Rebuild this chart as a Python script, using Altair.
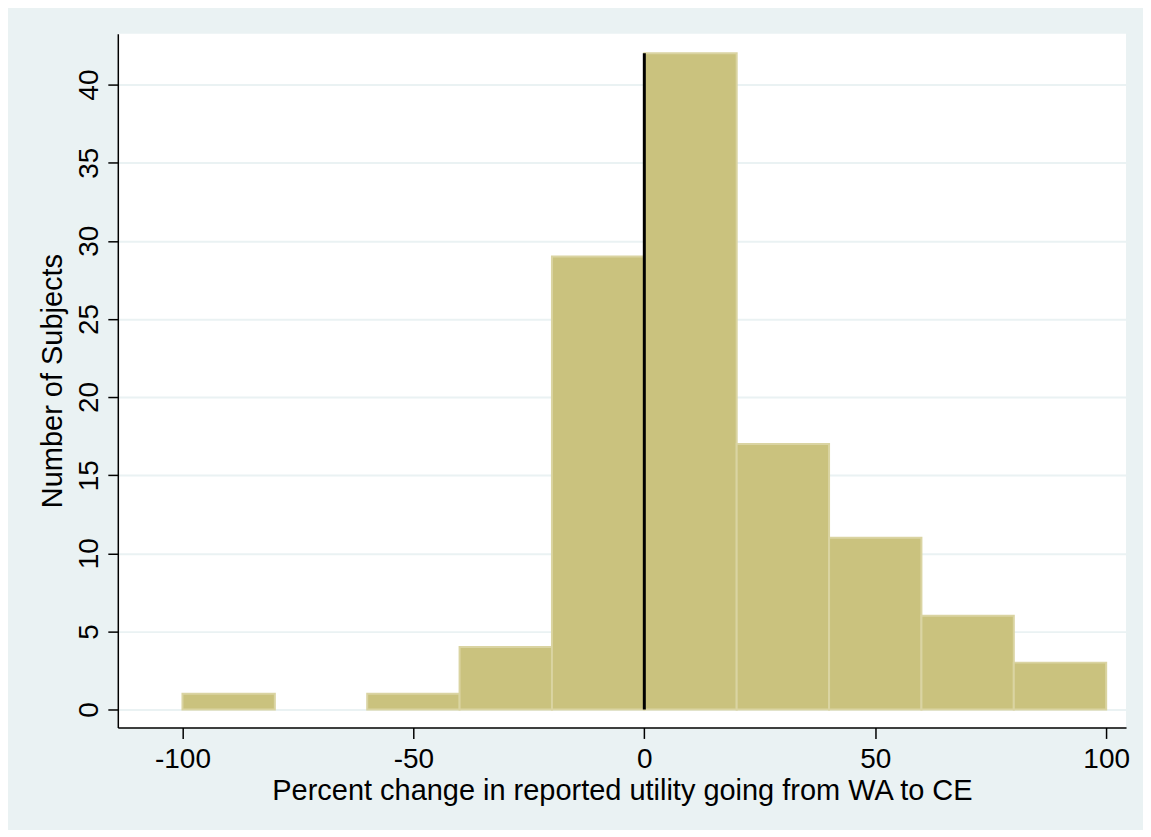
import altair as alt
import pandas as pd

bin_start = [-100, -80, -60, -40, -20, 0, 20, 40, 60, 80]
bin_width = 20
counts = [1, 0, 1, 4, 29, 42, 17, 11, 6, 3]
x_ticks = [-100, -50, 0, 50, 100]
y_ticks = [0, 5, 10, 15, 20, 25, 30, 35, 40]
ref_x = [0]
ref_top = [42]

df = pd.DataFrame({
    "start": bin_start,
    "end": [s + bin_width for s in bin_start],
    "count": counts,
})
ref = pd.DataFrame({"x": ref_x, "y0": [0], "y1": ref_top})

FONT = "Liberation Sans"
xs = alt.Scale(domain=[-114.0, 104.3], nice=False, zero=False)
ys = alt.Scale(domain=[-1.15, 43.26], nice=False, zero=False)

bars = alt.Chart(df).transform_filter(alt.datum.count > 0).mark_bar(
    color="#CAC27E", stroke="#DAD4A2", strokeWidth=2
).encode(
    x=alt.X("start:Q", scale=xs, axis=alt.Axis(
        values=x_ticks, grid=False, title="Percent change in reported utility going from WA to CE",
        titleX=505, titleY=72, titleBaseline="alphabetic", titleAlign="center",
        labelBaseline="alphabetic", labelPadding=29, tickSize=11,
        labelExpr="'' + datum.value",
    )),
    x2="end:Q",
    y=alt.Y("count:Q", scale=ys, axis=alt.Axis(
        values=y_ticks, grid=True, title="Number of Subjects",
        labelAngle=270, labelAlign="center", labelBaseline="alphabetic", labelPadding=10,
        tickSize=10, titleAngle=270, titleX=-56, titleY=347.5,
        titleBaseline="alphabetic", titleAlign="center",
    )),
    y2=alt.datum(0),
)

rule = alt.Chart(ref).mark_rule(color="black", strokeWidth=3).encode(
    x=alt.X("x:Q", scale=xs),
    y=alt.Y("y0:Q", scale=ys),
    y2="y1:Q",
)

chart = alt.layer(bars, rule).properties(
    width=1010, height=695,
    autosize=alt.AutoSizeParams(type="none"),
    padding={"left": 110, "top": 25, "right": 17, "bottom": 102},
    background="#EAF2F3",
).configure_view(
    fill="white", strokeWidth=0,
).configure_axis(
    domainColor="black", domainWidth=1.5, tickColor="black", tickWidth=1.5,
    gridColor="#EAF2F3", gridWidth=2,
    labelFont=FONT, labelFontSize=28, labelColor="black",
    titleFont=FONT, titleFontSize=29, titleColor="black", titleFontWeight="normal",
    labelFlush=False, labelOverlap=False,
)

chart.save("out.html", embed_options={"renderer": "svg", "actions": False})
